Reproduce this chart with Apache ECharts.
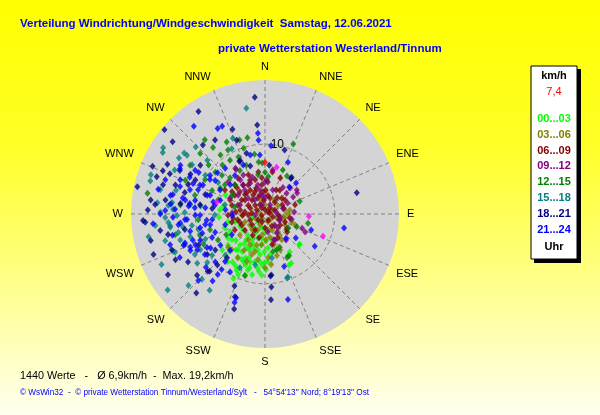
<!DOCTYPE html>
<html>
<head>
<meta charset="utf-8">
<script src="https://cdn.jsdelivr.net/npm/echarts@6/dist/echarts.min.js"></script>
<style>
  html, body { margin: 0; padding: 0; }
  #main { width: 600px; height: 415px; }
</style>
</head>
<body>
<div id="main"></div>
<script>
// compass names, one per 22.5 degrees
var dirLabels = ['N', 'NNE', 'NE', 'ENE', 'E', 'ESE', 'SE', 'SSE',
                 'S', 'SSW', 'SW', 'WSW', 'W', 'WNW', 'NW', 'NNW'];

// hour bins of the legend and their colours
var hourBins = ['00...03', '03...06', '06...09', '09...12', '12...15', '15...18', '18...21', '21...24'];
var binColors = ['#00ff00', '#808000', '#800000', '#800080', '#008000', '#008080', '#000080', '#0000ff'];

// readings: [speed km/h, direction deg]
var h00 = [[5.6,203],[5.7,219],[5.9,187],[7.0,192],[6.9,204],[8.5,210],[9.5,204],[8.4,197],[7.3,183],[4.9,175],
  [3.6,196],[3.9,219],[5.6,228],[7.4,223],[3.9,234],[2.5,215],[2.6,180],[3.8,165],[4.5,204],[6.3,211],
  [8.3,214],[8.9,192],[6.9,180],[5.9,173],[7.8,188],[7.8,201],[7.3,212],[6.9,230],[6.1,251],[4.4,255],
  [1.5,221],[4.5,187],[6.7,200],[8.5,205],[10.3,206],[6.5,147],[6.6,132],[8.1,155],[3.9,178],[6.1,280],
  [6.6,266],[3.5,187],[5.2,215],[5.1,198],[5.4,181],[7.2,197],[7.3,207],[6.6,219],[6.0,232],[4.6,216],
  [2.9,207],[6.9,176],[5.4,162],[6.8,151],[6.6,131],[8.0,152],[9.2,198],[8.7,218],[8.0,230],[5.6,243],
  [4.0,244],[1.9,253],[2.0,192],[8.3,186],[8.0,179],[6.3,296],[6.5,275],[5.4,258],
  [3.9,208],[5.5,208],[5.3,191],[6.4,217],[7.5,204],[6.9,186],[9.0,207],[6.3,237],[8.0,196],[8.8,183]];
var h03 = [[1.1,140],[2.1,138],[2.2,105],[3.3,119],[3.2,144],[2.3,169],[1.7,204],[3.6,81],[2.6,100],[3.3,90],
  [4.0,107],[1.2,60],[1.3,0],[1.0,286],[2.9,219],[4.4,213],[6.0,210],[5.6,195],[4.4,186],[3.4,168],
  [6.2,164],[4.4,147],[3.1,146],[2.0,348],[2.4,33],[2.2,58],[1.5,248],[3.1,248],[4.7,230],[3.0,188],
  [6.6,189],[7.3,201],[7.7,180],[7.1,228],[7.0,223],[1.8,108],[2.9,79],[3.8,127],[4.6,164],[1.2,160],
  [0.7,217],[2.7,234],[3.3,267],[5.6,157],[7.3,173],[6.1,198],[4.6,110],[3.7,178],[4.6,195],[7.4,212],
  [2.5,156],[3.7,145],[2.5,204],[2.9,101],[4.9,206],[6.3,176]];
var h06 = [[1.9,312],[3.5,305],[4.0,328],[2.8,345],[3.6,279],[5.1,302],[3.4,2],[2.4,17],[1.5,68],[0.5,250],
  [2.4,267],[4.0,258],[2.4,230],[5.2,323],[5.1,344],[4.6,5],[4.0,32],[3.5,55],[2.9,37],[1.2,110],
  [2.0,150],[4.1,129],[3.5,194],[3.8,124],[4.5,167],[3.6,99],[4.9,285],[5.3,268],[3.7,231],[2.5,336],
  [2.3,292],[4.8,311],[4.2,354],[1.1,40],[1.3,229],[4.9,242],[6.1,337],[5.6,23],[4.5,73],[2.7,126],
  [2.0,180],[6.7,301],[6.4,323],[3.2,328],[2.7,298],[3.9,301],[3.9,341],[2.7,9],[1.0,333],[1.9,274],
  [2.9,276],[4.2,274],[4.9,256],[2.7,212],[0.5,56],[2.2,40],[2.8,73],[2.0,356],[4.8,330],[6.1,351],
  [6.1,10],[5.4,292],[3.9,152],[1.2,200],[3.8,252],
  [4.0,314],[2.7,317],[1.5,331],[4.1,288],[3.2,267],[2.3,248],[0.6,0],[0.7,79],[3.5,336],[5.2,355],
  [6.0,314],[5.7,304],[1.9,94],[2.8,62],
  [5.5,313],[4.0,319],[1.3,297],[3.2,355],[4.6,263],[3.7,244],[3.5,210],[3.8,25],[3.3,47],[1.0,153],
  [3.1,112],[5.3,336]];
var h09 = [[3.6,18],[4.7,59],[5.5,57],[2.3,112],[3.2,148],[4.0,159],[6.3,114],[5.6,341],[4.9,334],[3.5,348],
  [2.4,0],[2.2,113],[2.2,140],[3.9,161],[7.6,327],[5.2,323],[3.3,313],[3.8,290],[4.7,272],[1.4,264],
  [2.7,72],[3.6,64],[1.5,29],[1.4,342],[4.6,34],[4.3,46],[5.7,53],[2.2,101],[6.4,10],[7.8,327],
  [3.9,101],[4.3,346],[4.9,3],[4.5,320],[2.5,325],[1.6,80],[4.8,141],[2.6,171],[4.7,305],[7.0,311],
  [2.7,351],[4.2,86],[5.7,111],[6.4,331],
  [6.0,324],[4.6,0],[5.2,44],[2.7,137],[5.5,295]];
var h12 = [[11.7,332],[11.2,347],[7.5,353],[9.2,327],[10.6,323],[10.6,330],[12.7,313],[17.1,280],[10.7,311],[8.3,312],
  [7.2,316],[10.8,22],[6.3,30],[5.4,5],[5.3,70],[8.7,350],[7.3,357],[6.3,102],[4.9,112],[5.2,156],
  [5.4,162],[7.0,153],[5.5,168],[6.9,150],[9.8,244],[9.3,198],[9.0,335],[9.3,310],[9.9,300],[8.3,294],
  [7.0,287],[7.1,306],[6.0,314],[7.2,330],[10.4,285],[12.2,276],[9.6,265],[8.2,254],[7.7,241],[6.3,242],
  [5.4,300],[7.5,339],[9.9,342],[12.1,322],[12.4,293],[13.2,257],[6.0,0],[6.8,22],[9.3,319],[4.5,283],
  [5.7,350],[3.9,121],
  [13.7,321],[12.8,303],[11.2,341],[7.4,300],[9.8,252]];
var h15 = [[14.0,307],[14.5,307],[15.4,283],[15.5,276],[13.4,277],[13.2,273],[12.6,269],[13.9,265],[13.7,262],[12.7,258],
  [11.9,261],[11.2,253],[9.8,257],[9.3,247],[17.3,289],[17.1,286],[17.0,259],[17.4,303],[11.3,313],[15.4,350],
  [17.1,301],[14.7,303],[13.8,314],[11.8,337],[10.5,333],[14.2,248],[16.5,244],[17.7,232],[15.0,227],[13.5,216],
  [12.0,234],[10.8,230],[13.7,263],[9.7,161],[6.4,171],[8.5,205],[7.4,191],[9.6,160],[13.0,224],[14.0,247],
  [14.3,268],[10.8,277],[9.3,277],[7.2,269],[12.3,249],[11.6,240],[5.9,283],[10.2,303],[8.1,304],[15.0,271],
  [14.8,255],[8.2,224],
  [13.2,285],[13.9,275],[11.5,271],[10.6,261],[12.7,253],[10.6,241],[9.6,232],[14.4,296],[15.8,264],[12.6,304]];
var h18 = [[16.8,355],[17.5,327],[18.8,310],[16.8,308],[13.0,339],[11.3,339],[12.8,355],[8.4,335],[7.2,343],[17.5,293],
  [15.7,297],[15.9,293],[16.4,289],[18.7,282],[9.6,17],[7.0,5],[6.3,36],[13.5,77],[15.8,275],[17.5,267],
  [17.0,250],[14.2,258],[13.7,297],[14.8,293],[13.3,318],[10.5,245],[10.1,235],[11.4,224],[13.0,238],[16.4,238],
  [15.0,221],[13.1,228],[11.6,225],[10.0,223],[8.3,221],[11.2,203],[14.3,198],[12.6,200],[8.8,174],[10.5,175],
  [12.3,176],[9.1,343],[8.4,334],[6.5,36],[8.9,175],[17.2,266],[13.5,288],[11.9,285],[11.1,296],[9.0,288],
  [12.1,298],[14.4,278],[12.2,277],[15.2,286],[11.7,259],[16.8,257],[12.8,326],[16.5,277],[11.6,307],[8.8,234],
  [14.4,243],
  [15.2,261],[16.8,272],[14.3,249],[9.4,278],[11.8,291],[7.6,276]];
var h21 = [[16.2,321],[14.0,331],[14.0,334],[11.6,355],[9.8,5],[8.1,24],[5.2,42],[6.3,45],[11.5,100],[8.5,123],
  [7.0,109],[5.6,128],[4.6,139],[8.0,160],[12.7,165],[8.5,355],[16.1,265],[11.0,218],[13.5,225],[12.2,218],
  [13.4,199],[12.7,199],[10.6,355],[13.1,292],[11.3,288],[10.2,294],[8.3,289],[7.3,280],[7.3,298],[8.6,276],
  [10.0,269],[11.5,266],[12.9,273],[12.5,263],[11.0,257],[10.0,248],[9.2,238],[7.8,235],[7.6,250],[5.9,255],
  [5.7,276],[5.6,238],[11.6,280],[10.2,281],[13.8,281],[15.1,289],[14.0,300],[11.8,302],[9.6,305],[8.6,304],
  [8.7,319],[7.0,322],[8.7,260],[10.9,246],[10.4,236],[9.9,226],[8.9,220],[15.0,270],[15.7,283],[13.6,257],
  [12.5,249],[7.6,264],[6.7,287],[6.5,310],[7.7,336],[8.7,346],[11.0,276],[9.5,258],[11.9,244],[13.7,243],
  [7.2,224],[4.7,268],[14.3,252],[10.1,218],[9.7,211],[11.4,228],
  [13.8,298],[12.0,296],[11.2,293],[10.2,290],[12.8,288],[13.5,282],[12.0,281],[10.9,278],[10.1,275],[9.3,269],
  [8.4,264],[8.0,259],[11.2,266],[12.2,264],[13.2,268],[9.4,253],[11.0,250],[12.2,250],[11.7,246],[11.0,242],
  [9.6,240],[8.3,246],[7.6,283],[8.7,288],[9.8,295],[9.3,302],[9.0,311],[11.2,302],[13.6,276],[14.3,272]];
var extra = [[6.9,14],[6.3,93],[8.9,111],[7.1,284]];
var current = [[7.4, 0]];
var currentLabel = '7,4';

var groups = [h00, h03, h06, h09, h12, h15, h18, h21];

var font = 'Arial, "Liberation Sans", sans-serif';
var chart = echarts.init(document.getElementById('main'));

var series = groups.map(function (g, i) {
  return {
    name: hourBins[i],
    type: 'scatter',
    coordinateSystem: 'polar',
    symbol: 'diamond',
    symbolSize: [6, 7],
    itemStyle: { color: binColors[i] },
    data: g
  };
});
series.push({
  name: 'extra', type: 'scatter', coordinateSystem: 'polar',
  symbol: 'diamond', symbolSize: [6, 7],
  itemStyle: { color: '#ff00ff' }, data: extra
});
series.push({
  name: 'aktuell', type: 'scatter', coordinateSystem: 'polar',
  symbol: 'diamond', symbolSize: [6, 7],
  itemStyle: { color: '#ff0000' }, data: current
});

// grey disc behind the polar grid, legend box on the right
var legendItems = [
  { type: 'circle', z: -1, shape: { cx: 265, cy: 214, r: 134 }, style: { fill: '#d4d4d4' } },
  { type: 'rect', shape: { x: 534, y: 69, width: 47, height: 194 }, style: { fill: '#000' } },
  { type: 'rect', shape: { x: 531, y: 66, width: 46, height: 193 }, style: { fill: '#fff', stroke: '#000', lineWidth: 1 } },
  { type: 'text', x: 554, y: 76, style: { text: 'km/h', fill: '#000', font: 'bold 11px ' + font, align: 'center', verticalAlign: 'middle' } },
  { type: 'text', x: 554, y: 92, style: { text: currentLabel, fill: '#ff0000', font: '11px ' + font, align: 'center', verticalAlign: 'middle' } },
  { type: 'text', x: 554, y: 247, style: { text: 'Uhr', fill: '#000', font: 'bold 11px ' + font, align: 'center', verticalAlign: 'middle' } }
];
hourBins.forEach(function (b, i) {
  legendItems.push({
    type: 'text', x: 554, y: 119 + i * 15.8,
    style: { text: b, fill: binColors[i], font: 'bold 11px ' + font, align: 'center', verticalAlign: 'middle' }
  });
});

var option = {
  animation: false,
  backgroundColor: {
    type: 'linear', x: 0, y: 0, x2: 0, y2: 1,
    colorStops: [
      { offset: 0, color: '#ffff00' },
      { offset: 0.35, color: '#ffff28' },
      { offset: 0.7, color: '#ffff90' },
      { offset: 1, color: '#fffff0' }
    ]
  },
  title: [
    { text: 'Verteilung Windrichtung/Windgeschwindigkeit  Samstag, 12.06.2021', left: 20, top: 18, padding: 0,
      textStyle: { color: '#0000ff', fontSize: 11.5, fontWeight: 'bold', fontFamily: font } },
    { text: 'private Wetterstation Westerland/Tinnum', left: 218, top: 43, padding: 0,
      textStyle: { color: '#0000ff', fontSize: 11.5, fontWeight: 'bold', fontFamily: font } },
    { text: '1440 Werte   -   Ø 6,9km/h  -  Max. 19,2km/h', left: 20, top: 371, padding: 0,
      textStyle: { color: '#000', fontSize: 10.8, fontWeight: 'normal', fontFamily: font } },
    { text: '© WsWin32  -  © private Wetterstation Tinnum/Westerland/Sylt   -   54°54\'13\'\' Nord; 8°19\'13\'\' Ost', left: 20, top: 389, padding: 0,
      textStyle: { color: '#0000ff', fontSize: 8.2, fontWeight: 'normal', fontFamily: font } }
  ],
  polar: { center: [265, 214], radius: 134 },
  angleAxis: {
    type: 'value', min: 0, max: 360, interval: 22.5,
    startAngle: 90, clockwise: true,
    axisLine: { show: false },
    axisTick: { show: false },
    axisLabel: {
      margin: 8, color: '#000', fontSize: 11, fontFamily: font,
      formatter: function (v) {
        var i = Math.round(v / 22.5);
        return i < 16 ? dirLabels[i] : '';
      }
    },
    splitLine: { lineStyle: { color: '#808080', width: 1, type: [4, 3] } }
  },
  radiusAxis: {
    min: 0, max: 19.2, interval: 10,
    axisLine: { show: false },
    axisTick: { show: false },
    axisLabel: {
      color: '#000', fontSize: 12, fontFamily: font, margin: -19,
      formatter: function (v) { return v === 10 ? '10' : ''; }
    },
    splitLine: { lineStyle: { color: ['#808080', '#808080', 'rgba(0,0,0,0)'], width: 1, type: [4, 3] } }
  },
  graphic: legendItems,
  series: series
};
chart.setOption(option);
</script>
</body>
</html>
